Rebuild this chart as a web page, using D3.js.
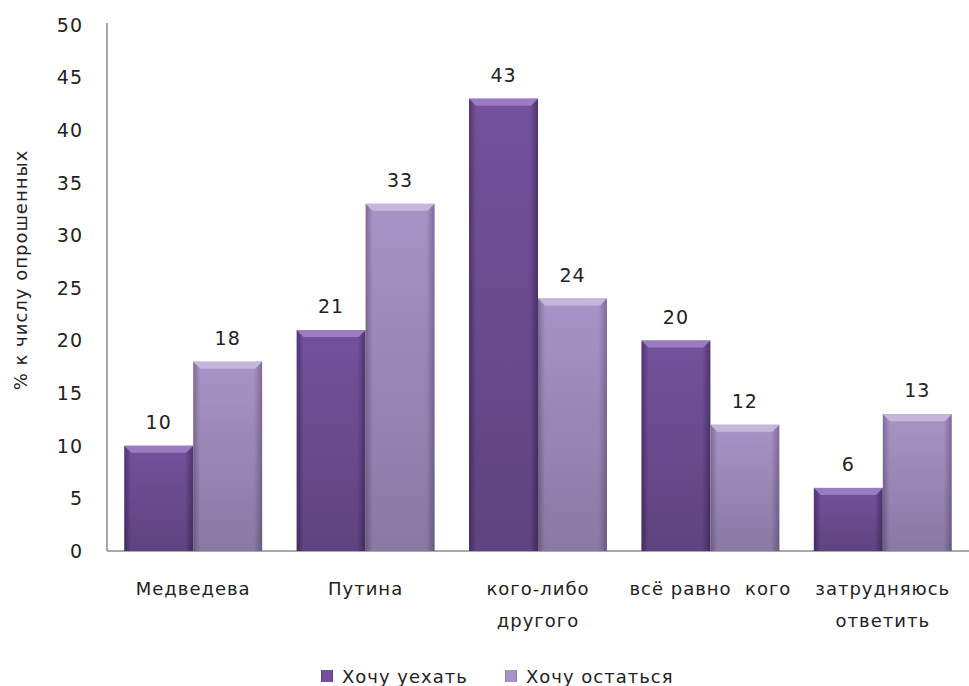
<!DOCTYPE html>
<html>
<head>
<meta charset="utf-8">
<script src="https://cdn.jsdelivr.net/npm/d3@7"></script>
<style>
  body { margin: 0; background: #fff; }
  svg text { font-family: "DejaVu Sans", sans-serif; fill: #222; letter-spacing: 1px; }
</style>
</head>
<body>
<div id="chart"></div>
<script>
// data
const categories = [['Медведева'], ['Путина'], ['кого-либо', 'другого'], ['всё равно  кого'], ['затрудняюсь', 'ответить']];
const seriesNames = ['Хочу уехать', 'Хочу остаться'];
const leave = [10, 21, 43, 20, 6];
const stay = [18, 33, 24, 12, 13];
const yTicks = [0, 5, 10, 15, 20, 25, 30, 35, 40, 45, 50];

const w = 969, h = 686;
const margin = { top: 25, right: 0, bottom: 135, left: 107 };

const svg = d3.select('#chart').append('svg')
  .attr('width', w)
  .attr('height', h);

// gradients for the bevelled bars
const defs = svg.append('defs');
const colors = [
  { base: '#74519c', light: '#9a7cc0', dark: '#4f3470' },
  { base: '#a893c6', light: '#c6b6dc', dark: '#7f6c99' }
];
colors.forEach(function(c, i) {
  const g = defs.append('linearGradient').attr('id', 'grad' + i)
    .attr('x1', 0).attr('x2', 1).attr('y1', 0).attr('y2', 0);
  g.append('stop').attr('offset', '0%').attr('stop-color', c.dark);
  g.append('stop').attr('offset', '10%').attr('stop-color', c.base);
  g.append('stop').attr('offset', '88%').attr('stop-color', c.base);
  g.append('stop').attr('offset', '100%').attr('stop-color', c.dark);
  const v = defs.append('linearGradient').attr('id', 'vgrad' + i)
    .attr('x1', 0).attr('x2', 0).attr('y1', 0).attr('y2', 1);
  v.append('stop').attr('offset', '0%').attr('stop-color', '#000').attr('stop-opacity', 0);
  v.append('stop').attr('offset', '100%').attr('stop-color', '#000').attr('stop-opacity', 0.18);
});

// scales
const x0 = d3.scaleBand()
  .domain(d3.range(categories.length))
  .range([margin.left, w - margin.right])
  .paddingInner(0.2)
  .paddingOuter(0.1);

const x1 = d3.scaleBand()
  .domain([0, 1])
  .range([0, x0.bandwidth()]);

const y = d3.scaleLinear()
  .domain([0, 50])
  .range([h - margin.bottom, margin.top]);

// y-axis labels
svg.selectAll('.ytick')
  .data(yTicks)
  .enter().append('text')
  .attr('x', 83)
  .attr('y', function(d) { return y(d); })
  .attr('dy', '0.36em')
  .style('text-anchor', 'end')
  .style('font-size', '19px')
  .text(function(d) { return d; });

// axes lines
svg.append('line')
  .attr('x1', margin.left).attr('x2', margin.left)
  .attr('y1', y(50) - 2).attr('y2', y(0))
  .attr('stroke', '#8c8c8c').attr('stroke-width', 1.5);
svg.append('line')
  .attr('x1', margin.left).attr('x2', w)
  .attr('y1', y(0)).attr('y2', y(0))
  .attr('stroke', '#8c8c8c').attr('stroke-width', 1.5);

// y-axis title
svg.append('text')
  .attr('transform', 'translate(27,' + 270 + ') rotate(-90)')
  .style('text-anchor', 'middle')
  .style('font-size', '18px')
  .text('% к числу опрошенных');

// bars
const rows = categories.map(function(c, i) { return [leave[i], stay[i]]; });
const groups = svg.selectAll('.group')
  .data(rows)
  .enter().append('g')
  .attr('transform', function(d, i) { return 'translate(' + x0(i) + ',0)'; });

const bars = groups.selectAll('.bar')
  .data(function(d) { return d.map(function(v, s) { return { v: v, s: s }; }); })
  .enter().append('g');

bars.append('rect')
  .attr('x', function(d) { return x1(d.s); })
  .attr('y', function(d) { return y(d.v); })
  .attr('width', x1.bandwidth())
  .attr('height', function(d) { return y(0) - y(d.v); })
  .attr('fill', function(d) { return 'url(#grad' + d.s + ')'; });

bars.append('rect')
  .attr('x', function(d) { return x1(d.s); })
  .attr('y', function(d) { return y(d.v); })
  .attr('width', x1.bandwidth())
  .attr('height', function(d) { return y(0) - y(d.v); })
  .attr('fill', function(d) { return 'url(#vgrad' + d.s + ')'; });

// top bevel
bars.append('path')
  .attr('d', function(d) {
    const xl = x1(d.s), xr = xl + x1.bandwidth(), t = y(d.v);
    return 'M' + xl + ',' + t + 'L' + xr + ',' + t + 'L' + (xr - 7) + ',' + (t + 7) + 'L' + (xl + 7) + ',' + (t + 7) + 'Z';
  })
  .attr('fill', function(d) { return colors[d.s].light; });

// value labels
bars.append('text')
  .attr('x', function(d) { return x1(d.s) + x1.bandwidth() / 2; })
  .attr('y', function(d) { return y(d.v) - 17; })
  .style('text-anchor', 'middle')
  .style('font-size', '19px')
  .text(function(d) { return d.v; });

// category labels
const cat = svg.selectAll('.cat')
  .data(categories)
  .enter().append('text')
  .attr('x', function(d, i) { return x0(i) + x0.bandwidth() / 2; })
  .attr('y', 595)
  .style('text-anchor', 'middle')
  .style('font-size', '18px');
cat.selectAll('tspan')
  .data(function(d) { return d; })
  .enter().append('tspan')
  .attr('x', function() { return d3.select(this.parentNode).attr('x'); })
  .attr('dy', function(d, i) { return i === 0 ? 0 : 32; })
  .style('white-space', 'pre')
  .text(function(d) { return d; });

// legend
const legendX = [321, 505];
const legend = svg.selectAll('.legend')
  .data(seriesNames)
  .enter().append('g')
  .attr('transform', function(d, i) { return 'translate(' + legendX[i] + ',670)'; });
legend.append('rect')
  .attr('width', 12).attr('height', 12)
  .attr('fill', function(d, i) { return 'url(#grad' + i + ')'; });
legend.append('text')
  .attr('x', 21).attr('y', 6)
  .attr('dy', '0.38em')
  .style('font-size', '18px')
  .text(function(d) { return d; });
</script>
</body>
</html>
